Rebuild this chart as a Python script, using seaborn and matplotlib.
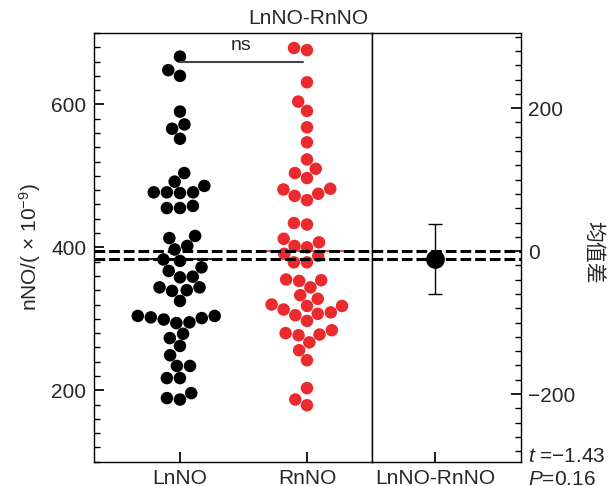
import numpy as np
import pandas as pd
import matplotlib
matplotlib.use("Agg")
import matplotlib.pyplot as plt
import seaborn as sns
from matplotlib.ticker import MultipleLocator

# values
groups = ["LnNO", "RnNO"]
diff_label = "LnNO-RnNO"

ln_no = [667, 648, 640, 590, 566, 572, 552, 504, 492, 486, 477, 476, 477, 477,
         458, 455, 455, 413, 416, 397, 402, 383, 381, 367, 359, 372, 358, 344,
         339, 340, 344, 325, 301, 304, 304, 302, 299, 295, 294, 279, 273, 262,
         249, 234, 234, 217, 217, 187, 196, 189]
rn_no = [676, 679, 631, 604, 591, 568, 547, 523, 504, 510, 497, 482, 481, 475,
         472, 466, 432, 434, 412, 407, 400, 402, 391, 388, 379, 379, 355, 354,
         353, 344, 333, 328, 318, 313, 320, 318, 307, 309, 305, 297, 280, 277,
         284, 278, 267, 256, 242, 203, 187, 179]

# confidence interval of the mean difference and test result
ci_low = -60
ci_high = 38
t_value = -1.43
p_value = 0.16

colors = {"LnNO": "black", "RnNO": "#ea2a2e"}

sns.set_theme(style="ticks")
plt.rcParams["font.family"] = ["Liberation Sans", "Noto Sans CJK SC"]
plt.rcParams["mathtext.fontset"] = "custom"
plt.rcParams["mathtext.rm"] = "Liberation Sans"
plt.rcParams["mathtext.it"] = "Liberation Sans:italic"
plt.rcParams["axes.linewidth"] = 1.0
plt.rcParams["axes.edgecolor"] = "black"

df = pd.DataFrame({
    "group": ["LnNO"] * len(ln_no) + ["RnNO"] * len(rn_no),
    "value": ln_no + rn_no,
})
ln_mean = np.mean(ln_no)
rn_mean = np.mean(rn_no)
diff = ln_mean - rn_mean

W, H = 616, 486
fig = plt.figure(figsize=(W / 100, H / 100), dpi=100)
x0, x1, x2 = 94, 372, 521
y_top, y_bot = 33, 461.7
ax1 = fig.add_axes([x0 / W, 1 - y_bot / H, (x1 - x0) / W, (y_bot - y_top) / H])
ax2 = fig.add_axes([x1 / W, 1 - y_bot / H, (x2 - x1) / W, (y_bot - y_top) / H])

# left panel: swarm of both groups
sns.swarmplot(data=df, x="group", y="value", hue="group", order=groups,
              palette=colors, size=9, legend=False, ax=ax1, zorder=2)
ax1.set_xlim(-0.677, 1.512)
ax1.set_ylim(100, 700)

for i, (g, m) in enumerate(zip(groups, [ln_mean, rn_mean])):
    ax1.hlines(m, i - 0.33, i + 0.33, color=colors[g], lw=1.2, zorder=3)
    ax1.axhline(m, color="black", lw=2.2, ls=(0, (3.5, 1.3)), zorder=4)

# ns bracket
bracket_y = 660
ax1.plot([0, 0.966], [bracket_y, bracket_y], color="#444444", lw=1.5)
ax1.text(0.48, bracket_y + 10, "ns", ha="center", va="bottom", fontsize=14)

ax1.set_xticks(range(len(groups)))
ax1.set_xticklabels(groups)
ax1.yaxis.set_major_locator(MultipleLocator(200))
ax1.yaxis.set_minor_locator(MultipleLocator(20))
ax1.tick_params(axis="both", which="both", direction="in", labelsize=15,
                color="black")
ax1.tick_params(axis="y", which="major", length=7.5, pad=5.5)
ax1.tick_params(axis="y", which="minor", length=4.3)
ax1.tick_params(axis="x", which="major", length=7, pad=5)
ax1.set_xlabel("")
ax1.set_ylabel("nNO/( × 10$^{-9}$)", fontsize=15)
ax1.yaxis.set_label_coords(-0.183, 0.5)

# right panel: mean difference with CI
ax2.set_xlim(-0.423, 0.577)
ax2.set_ylim(100 - rn_mean, 700 - rn_mean)
ax2.axhline(0, color="black", lw=2.2, ls=(0, (3.5, 1.3)), zorder=1)
ax2.axhline(diff, color="black", lw=2.2, ls=(0, (3.5, 1.3)), zorder=1)
ax2.errorbar([0], [diff], yerr=[[diff - ci_low], [ci_high - diff]], fmt="o",
             color="black", ms=12.5, capsize=5, elinewidth=1, capthick=1,
             zorder=3)
ax2.set_xticks([0])
ax2.set_xticklabels([diff_label])
ax2.yaxis.tick_right()
ax2.yaxis.set_major_locator(MultipleLocator(200))
ax2.yaxis.set_minor_locator(MultipleLocator(20))
ax2.tick_params(axis="both", which="both", direction="in", labelsize=15,
                color="black")
ax2.tick_params(axis="y", which="major", length=7.5, pad=5)
ax2.tick_params(axis="y", which="minor", length=4.3)
ax2.tick_params(axis="x", which="major", length=7, pad=5)
ax2.tick_params(axis="y", which="both", left=False, right=True)

fig.text(593 / W, 1 - 252 / H, "均值差", rotation=270, ha="center",
         va="center", fontsize=15, family=["Noto Sans CJK SC", "DejaVu Sans"])
fig.text(308 / W, 1 - 18 / H, diff_label, ha="center", va="center",
         fontsize=15)
fig.text(528 / W, 1 - 462 / H, "$t$ =" + f"{t_value:.2f}".replace("-", "\u2212"),
         ha="left", va="baseline", fontsize=15)
fig.text(528 / W, 1 - 485 / H, "$P$=" + f"{p_value:.2f}", ha="left",
         va="baseline", fontsize=15)

fig.savefig("out.png", dpi=100)
